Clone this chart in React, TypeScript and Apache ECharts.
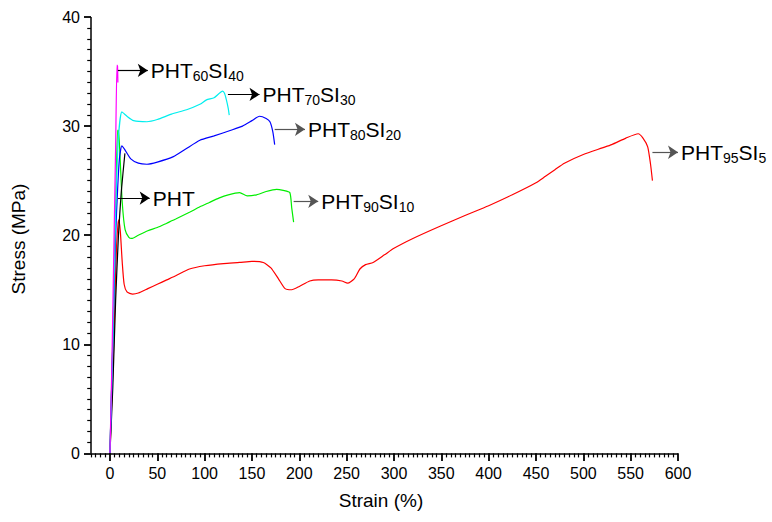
import React, { useEffect, useRef } from "react";
import * as echarts from "echarts";

// Stress–strain curves: [strain %, stress MPa]
const pht: [number, number][] = [
  [0, 0], [3, 6], [6, 14], [9, 20], [12, 24], [15.8, 27.5],
];
const pht95si5: [number, number][] = [
  [0, 0], [2, 5], [4, 10], [5.5, 15], [7, 19], [8.5, 21], [9.5, 21.4], [11, 20.3], [13, 17.5],
  [15, 15.5], [18, 14.8], [24, 14.6], [30, 14.7], [40, 15.1], [50, 15.5], [60, 15.9], [70, 16.3],
  [84, 16.9], [100, 17.2], [120, 17.4], [137, 17.5], [150, 17.6], [162, 17.5], [170, 17.0],
  [178, 16.0], [185, 15.1], [192, 15.0], [200, 15.3], [211, 15.8], [220, 15.9], [234, 15.9],
  [245, 15.8], [251, 15.6], [258, 16.0], [264, 16.9], [270, 17.3], [278, 17.5], [290, 18.2],
  [300, 18.8], [320, 19.7], [348, 20.8], [375, 21.8], [400, 22.7], [425, 23.7], [450, 24.8],
  [460, 25.4], [470, 26.0], [480, 26.6], [500, 27.4], [520, 28.0], [530, 28.3], [545, 28.9],
  [558, 29.3], [563, 28.9], [568, 28.1], [571, 26.5], [573, 25.0],
];
const pht90si10: [number, number][] = [
  [0, 0], [2, 7], [4, 14], [6, 22], [8, 29.6], [9, 29.6], [10.5, 27.5], [13, 23], [16, 20.5],
  [20, 19.8], [23, 19.7], [30, 20.0], [40, 20.4], [50, 20.7], [60, 21.1], [70, 21.5], [84, 22.1],
  [95, 22.6], [105, 23.0], [115, 23.4], [125, 23.7], [137, 23.9], [145, 23.6], [155, 23.7],
  [165, 24.0], [176, 24.2], [183, 24.1], [190, 23.9], [192, 22.5], [194, 21.2],
];
const pht80si20: [number, number][] = [
  [0, 0], [3, 10], [6, 20], [8, 24], [10, 27], [12.6, 28.2], [16, 27.8], [22, 27.0], [30, 26.6],
  [39, 26.5], [50, 26.7], [67, 27.2], [80, 27.9], [95, 28.7], [110, 29.1], [127, 29.6],
  [140, 30.0], [150, 30.5], [158, 30.9], [165, 30.7], [169, 30.4], [172, 29.5], [174, 28.3],
];
const pht70si30: [number, number][] = [
  [0, 0], [3, 10], [6, 22], [9, 29], [12.6, 31.3], [18, 30.9], [25, 30.5], [39, 30.4], [50, 30.6],
  [65, 31.1], [81, 31.5], [95, 32.0], [102, 32.4], [110, 32.6], [119, 33.2], [121, 33.0],
  [123, 32.4], [125, 31.6], [126, 31.0],
];
const pht60si40: [number, number][] = [
  [0, 0], [2, 8], [4, 18], [6, 28], [7.4, 35.6], [8, 35.5], [8.4, 34.0],
];

// Annotation arrows: [strain start, strain end, stress]
const arrowPHT: [number, number, number] = [8.4, 42, 23.4];
const arrow95: [number, number, number] = [573, 600, 27.6];
const arrow90: [number, number, number] = [194, 220, 23.1];
const arrow80: [number, number, number] = [174, 206, 29.7];
const arrow70: [number, number, number] = [124.6, 158, 32.9];
const arrow60: [number, number, number] = [8.4, 40, 35.1];

const labelPHT = "{m|PHT}";
const label95 = "{m|PHT}{s|95}{m|SI}{s|5}";
const label90 = "{m|PHT}{s|90}{m|SI}{s|10}";
const label80 = "{m|PHT}{s|80}{m|SI}{s|20}";
const label70 = "{m|PHT}{s|70}{m|SI}{s|30}";
const label60 = "{m|PHT}{s|60}{m|SI}{s|40}";

// Axis ranges: the frame sits at (X_MIN, Y_MIN); the plotting area is extended
// slightly beyond it so the outward ticks stay inside the coordinate system.
const X_MIN = -20;
const X_MAX = 600;
const Y_MIN = 0;
const Y_MAX = 40;
const Y_TICK_MAJOR = 7.4; // strain units left of the stress axis
const Y_TICK_MINOR = 4;
const X_TICK_MAJOR = 0.7; // stress units below the strain axis
const X_TICK_MINOR = 0.37;
const X_LO = X_MIN - Y_TICK_MAJOR;
const Y_LO = Y_MIN - X_TICK_MAJOR;

const xMajorTicks = [0, 50, 100, 150, 200, 250, 300, 350, 400, 450, 500, 550, 600];
const yMajorTicks = [0, 10, 20, 30, 40];
const xMinorTicks: number[] = [];
for (let v = X_MIN; v <= X_MAX; v += 5) if (v % 50 !== 0) xMinorTicks.push(v);
const yMinorTicks: number[] = [];
for (let v = Y_MIN; v <= Y_MAX; v += 1) if (v % 10 !== 0) yMinorTicks.push(v);

const FONT = "Liberation Sans, Arial, sans-serif";

function arrowMark(a: [number, number, number], text: string, color: string) {
  return {
    silent: true,
    symbol: ["none", "arrow"],
    symbolSize: 10,
    lineStyle: { color, width: 1.2, type: "solid" },
    emphasis: { disabled: true },
    label: {
      show: true,
      position: "end",
      distance: 3,
      formatter: text,
      color: "#000",
      rich: {
        m: { fontSize: 21, fontFamily: FONT, color: "#000" },
        s: { fontSize: 14, fontFamily: FONT, color: "#000", padding: [12, 0, 0, 0] },
      },
    },
    data: [[{ coord: [a[0], a[2]] }, { coord: [a[1], a[2]] }]],
  };
}

function makeSeries(name: string, data: [number, number][], color: string, mark: any) {
  return {
    name,
    type: "line",
    data,
    showSymbol: false,
    symbol: "none",
    smooth: 0.2,
    clip: false,
    lineStyle: { color, width: 1.2 },
    itemStyle: { color },
    markLine: mark,
  };
}

// Axis frame lines and ticks as marker segments in data coordinates
function frameSeries() {
  const items: any[] = [];
  const push = (a: number[], b: number[], w: number) =>
    items.push([{ coord: a, lineStyle: { width: w, color: "#000", type: "solid" } }, { coord: b }]);
  push([X_MIN, Y_MIN], [X_MAX, Y_MIN], 1.5);
  push([X_MIN, Y_MIN], [X_MIN, Y_MAX], 1.5);
  xMajorTicks.forEach((v) => push([v, Y_MIN], [v, Y_MIN - X_TICK_MAJOR], 1.8));
  xMinorTicks.forEach((v) => push([v, Y_MIN], [v, Y_MIN - X_TICK_MINOR], 1.2));
  yMajorTicks.forEach((v) => push([X_MIN, v], [X_MIN - Y_TICK_MAJOR, v], 1.8));
  yMinorTicks.forEach((v) => push([X_MIN, v], [X_MIN - Y_TICK_MINOR, v], 1.2));
  return {
    name: "frame",
    type: "line",
    data: [[X_MIN, Y_MIN]],
    showSymbol: false,
    symbol: "none",
    clip: false,
    silent: true,
    z: 5,
    lineStyle: { opacity: 0 },
    markLine: {
      silent: true,
      symbol: ["none", "none"],
      label: { show: false },
      emphasis: { disabled: true },
      lineStyle: { color: "#000", width: 1.2, type: "solid" },
      data: items,
    },
  };
}

export default function App() {
  const ref = useRef<HTMLDivElement>(null);
  useEffect(() => {
    if (!ref.current) return;
    const chart = echarts.init(ref.current, undefined, { renderer: "svg" });
    chart.setOption({
      animation: false,
      backgroundColor: "#fff",
      grid: { left: 84, right: 94, top: 17, bottom: 61, containLabel: false },
      xAxis: {
        type: "value",
        min: X_LO,
        max: X_MAX,
        name: "Strain (%)",
        nameLocation: "middle",
        nameGap: 30,
        nameTextStyle: { fontSize: 19, fontFamily: FONT, color: "#000" },
        axisLine: { show: false, onZero: false },
        axisTick: { show: false },
        axisLabel: { show: true, customValues: xMajorTicks, fontSize: 16, fontFamily: FONT, color: "#000", margin: 4 },
        splitLine: { show: false },
      },
      yAxis: {
        type: "value",
        min: Y_LO,
        max: Y_MAX,
        name: "Stress (MPa)",
        nameLocation: "middle",
        nameGap: 56,
        nameTextStyle: { fontSize: 19, fontFamily: FONT, color: "#000" },
        axisLine: { show: false, onZero: false },
        axisTick: { show: false },
        axisLabel: { show: true, customValues: yMajorTicks, fontSize: 16, fontFamily: FONT, color: "#000", margin: 4 },
        splitLine: { show: false },
      },
      series: [
        makeSeries("PHT95SI5", pht95si5, "#ff0000", arrowMark(arrow95, label95, "#555")),
        makeSeries("PHT90SI10", pht90si10, "#00ee00", arrowMark(arrow90, label90, "#555")),
        makeSeries("PHT", pht, "#000000", arrowMark(arrowPHT, labelPHT, "#000")),
        makeSeries("PHT80SI20", pht80si20, "#0000ff", arrowMark(arrow80, label80, "#555")),
        makeSeries("PHT70SI30", pht70si30, "#00eeee", arrowMark(arrow70, label70, "#000")),
        makeSeries("PHT60SI40", pht60si40, "#ff00ff", arrowMark(arrow60, label60, "#000")),
        frameSeries(),
      ],
    });
    return () => chart.dispose();
  }, []);
  return (
    <div
      ref={ref}
      style={{ position: "fixed", left: 0, top: 0, width: 772, height: 522, background: "#fff" }}
    />
  );
}
